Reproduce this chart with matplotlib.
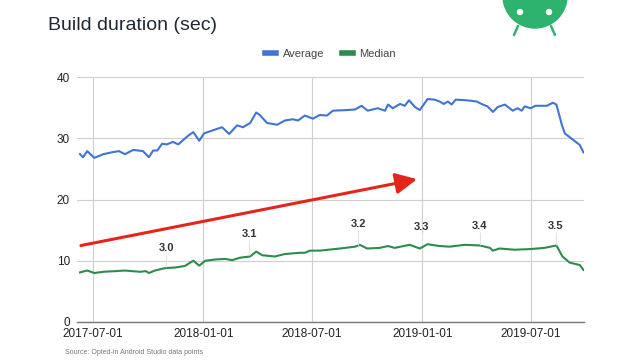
import numpy as np
import matplotlib
matplotlib.use('Agg')
import matplotlib.pyplot as plt
import matplotlib.dates as mdates
from matplotlib.patches import Circle

plt.rcParams['font.family'] = ['Liberation Sans', 'DejaVu Sans']

# Average build duration (sec)
avg_dates = ['2017-06-09', '2017-06-14', '2017-06-21', '2017-07-03', '2017-07-18', '2017-08-01',
             '2017-08-13', '2017-08-23', '2017-09-06', '2017-09-22', '2017-10-02', '2017-10-09',
             '2017-10-16', '2017-10-24', '2017-11-01', '2017-11-11', '2017-11-20', '2017-12-05',
             '2017-12-15', '2017-12-25', '2018-01-02', '2018-01-17', '2018-02-01', '2018-02-13',
             '2018-02-26', '2018-03-08', '2018-03-20', '2018-03-30', '2018-04-05', '2018-04-17',
             '2018-05-04', '2018-05-17', '2018-05-30', '2018-06-08', '2018-06-19', '2018-07-03',
             '2018-07-14', '2018-07-26', '2018-08-05', '2018-08-28', '2018-09-11', '2018-09-22',
             '2018-10-02', '2018-10-19', '2018-10-31', '2018-11-05', '2018-11-13', '2018-11-25',
             '2018-12-03', '2018-12-10', '2018-12-20', '2018-12-28', '2019-01-10', '2019-01-22',
             '2019-01-30', '2019-02-06', '2019-02-13', '2019-02-19', '2019-02-26', '2019-03-16',
             '2019-04-02', '2019-04-12', '2019-04-20', '2019-04-29', '2019-05-07', '2019-05-19',
             '2019-06-01', '2019-06-09', '2019-06-16', '2019-06-21', '2019-07-01', '2019-07-09',
             '2019-07-28', '2019-08-07', '2019-08-13', '2019-08-22', '2019-08-27', '2019-09-09',
             '2019-09-21', '2019-09-27']
avg_values = [27.4, 26.9, 27.9, 26.8, 27.4, 27.7,
              27.9, 27.4, 28.1, 27.9, 26.9, 28.0,
              28.0, 29.1, 29.0, 29.4, 29.0, 30.3,
              31.0, 29.6, 30.8, 31.3, 31.8, 30.7,
              32.1, 31.8, 32.5, 34.2, 33.8, 32.5,
              32.2, 32.9, 33.1, 32.9, 33.7, 33.2,
              33.8, 33.7, 34.5, 34.6, 34.7, 35.3,
              34.5, 34.9, 34.5, 35.5, 34.9, 35.6,
              35.3, 36.2, 35.1, 34.6, 36.4, 36.3,
              36.0, 35.6, 36.0, 35.5, 36.3, 36.2,
              36.0, 35.5, 35.2, 34.3, 35.1, 35.5,
              34.5, 34.9, 34.5, 35.2, 34.9, 35.3,
              35.3, 35.8, 35.5, 32.2, 30.8, 29.8,
              28.9, 27.7]

# Median build duration (sec)
med_dates = ['2017-06-09', '2017-06-21', '2017-07-03', '2017-07-18', '2017-08-06', '2017-08-23',
             '2017-09-17', '2017-09-27', '2017-10-02', '2017-10-12', '2017-10-29', '2017-11-15',
             '2017-12-01', '2017-12-15', '2017-12-25', '2018-01-04', '2018-01-20', '2018-02-06',
             '2018-02-18', '2018-03-03', '2018-03-20', '2018-03-30', '2018-04-09', '2018-04-30',
             '2018-05-17', '2018-06-11', '2018-06-19', '2018-06-28', '2018-07-14', '2018-08-17',
             '2018-09-11', '2018-09-19', '2018-10-01', '2018-10-22', '2018-11-05', '2018-11-16',
             '2018-12-11', '2018-12-28', '2019-01-10', '2019-01-30', '2019-02-16', '2019-03-13',
             '2019-04-07', '2019-04-24', '2019-04-29', '2019-05-10', '2019-06-04', '2019-06-29',
             '2019-07-24', '2019-08-13', '2019-08-23', '2019-09-04', '2019-09-21', '2019-09-27']
med_values = [8.1, 8.4, 8.0, 8.2, 8.3, 8.4,
              8.2, 8.3, 8.0, 8.4, 8.8, 8.9,
              9.15, 10.0, 9.2, 10.0, 10.2, 10.3,
              10.1, 10.5, 10.7, 11.5, 10.9, 10.7,
              11.1, 11.3, 11.3, 11.65, 11.65, 12.0,
              12.3, 12.6, 12.0, 12.1, 12.4, 12.1,
              12.6, 12.0, 12.7, 12.4, 12.3, 12.6,
              12.5, 12.1, 11.65, 12.0, 11.8, 11.9,
              12.1, 12.5, 10.7, 9.7, 9.3, 8.5]

# Android Studio releases
release_names = ['3.0', '3.1', '3.2', '3.3', '3.4', '3.5']
release_dates = ['2017-10-31', '2018-03-18', '2018-09-16', '2018-12-31', '2019-04-07', '2019-08-12']
release_label_y = [12.1, 14.4, 16.0, 15.5, 15.7, 15.7]
release_line_y = [9.0, 11.0, 12.6, 12.5, 12.5, 12.5]

tick_dates = ['2017-07-01', '2018-01-01', '2018-07-01', '2019-01-01', '2019-07-01']
y_ticks = [0, 10, 20, 30, 40]

# trend arrow
arrow_start = ('2017-06-06', 12.4)
arrow_end = ('2018-12-28', 23.4)

to_dt = lambda d: np.array(d, dtype='datetime64[D]')

fig = plt.figure(figsize=(6.4, 3.6), dpi=100)
fig.patch.set_facecolor('white')
ax = fig.add_axes([77 / 640, 1 - 322 / 360, (584 - 77) / 640, (322 - 77) / 360])

ax.plot(to_dt(avg_dates), avg_values, color='#4274d2', lw=1.5, label='Average', solid_joinstyle='round')
ax.plot(to_dt(med_dates), med_values, color='#2e8b4e', lw=1.5, label='Median', solid_joinstyle='round')

ax.set_xlim(np.datetime64('2017-06-04'), np.datetime64('2019-09-28'))
ax.set_ylim(0, 40)
ax.set_yticks(y_ticks)
ax.set_xticks(to_dt(tick_dates))
ax.xaxis.set_major_formatter(mdates.DateFormatter('%Y-%m-%d'))
ax.grid(True, color='#cfcfcf', lw=0.8)
ax.set_axisbelow(True)
for s in ['top', 'right', 'left']:
    ax.spines[s].set_visible(False)
ax.spines['bottom'].set_color('#777777')
ax.spines['bottom'].set_linewidth(1.0)
ax.tick_params(length=0, labelsize=8.5, colors='#222222')
ax.tick_params(axis='y', pad=5)
ax.tick_params(axis='x', pad=4.5)

# release labels
for name, d, ly, ty in zip(release_names, release_dates, release_label_y, release_line_y):
    ax.vlines(np.datetime64(d), ty, ly - 1.0, color='#e3e3e3', lw=0.8)
    ax.text(np.datetime64(d), ly, name, ha='center', va='center', fontsize=8,
            fontweight='bold', color='#333333')

ax.annotate('', xy=(np.datetime64(arrow_end[0]), arrow_end[1]),
            xytext=(np.datetime64(arrow_start[0]), arrow_start[1]),
            arrowprops=dict(arrowstyle='-|>,head_length=0.65,head_width=0.32',
                            mutation_scale=20, color='#e3261c', lw=2.2))

leg = ax.legend(loc='lower center', bbox_to_anchor=(0.5, 1.0), ncol=2, frameon=False,
                fontsize=8, handlelength=1.0, handletextpad=0.6, columnspacing=1.6,
                borderaxespad=1.2)
for line in leg.get_lines():
    line.set_linewidth(4)
for t in leg.get_texts():
    t.set_color('#444444')

fig.text(48 / 640, 1 - 26 / 360, 'Build duration (sec)', fontsize=14, color='#1f2a36',
         ha='left', va='center')
fig.text(65 / 640, 1 - 352 / 360, 'Source: Opted-in Android Studio data points', fontsize=5,
         color='#777777', ha='left', va='center')

# android head in the corner
logo = fig.add_axes([0, 0, 1, 1], zorder=-1)
logo.set_xlim(0, 640)
logo.set_ylim(360, 0)
logo.axis('off')
logo.add_patch(Circle((535, -4), 32, color='#2db36d'))
logo.add_patch(Circle((520, 12), 2.5, color='white'))
logo.add_patch(Circle((549, 12), 2.5, color='white'))
logo.plot([518, 514], [26, 35], color='#2db36d', lw=1.8, solid_capstyle='round')
logo.plot([551, 555], [26, 35], color='#2db36d', lw=1.8, solid_capstyle='round')

fig.savefig('out.png', dpi=100)
